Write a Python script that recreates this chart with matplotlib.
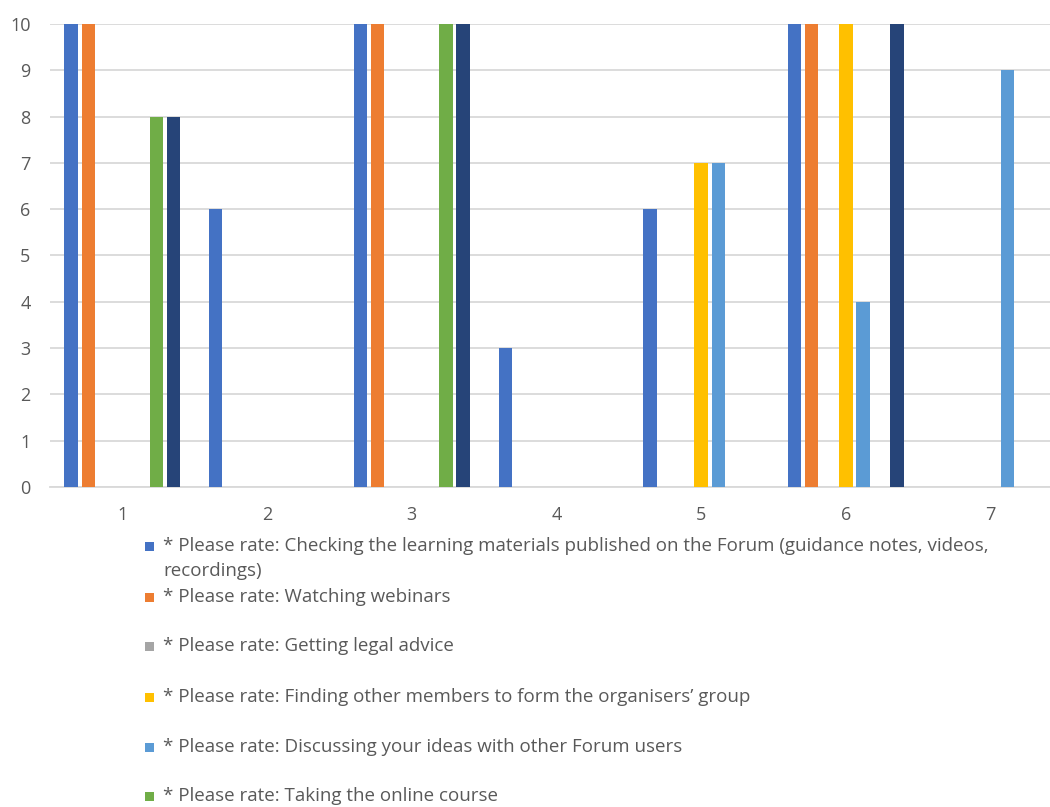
import matplotlib
matplotlib.use("Agg")
import matplotlib.pyplot as plt
from matplotlib.patches import Rectangle
import numpy as np

categories = ["1", "2", "3", "4", "5", "6", "7"]
series_names = [
    "* Please rate: Checking the learning materials published on the Forum (guidance notes, videos,\nrecordings)",
    "* Please rate: Watching webinars",
    "* Please rate: Getting legal advice",
    "* Please rate: Finding other members to form the organisers\u2019 group",
    "* Please rate: Discussing your ideas with other Forum users",
    "* Please rate: Taking the online course",
    "* Please rate: Other",
]
checking = [10, 6, 10, 3, 6, 10, 0]
webinars = [10, 0, 10, 0, 0, 10, 0]
legal = [0, 0, 0, 0, 0, 0, 0]
finding = [0, 0, 0, 0, 7, 10, 0]
discussing = [0, 0, 0, 0, 7, 4, 9]
course = [8, 0, 10, 0, 0, 0, 0]
other = [8, 0, 10, 0, 0, 10, 0]
yticks = list(range(0, 11))

series = [checking, webinars, legal, finding, discussing, course, other]
colors = ["#4472C4", "#ED7D31", "#A5A5A5", "#FFC000", "#5B9BD5", "#70AD47", "#264478"]

plt.rcParams['font.family'] = ['Open Sans', 'DejaVu Sans']

W, H = 1050, 807
fig = plt.figure(figsize=(W / 100, H / 100), dpi=100)
fig.patch.set_facecolor("white")

left_px, right_px = 50, 50 + 7 * 144.7
top_px, bottom_px = 24, 487
ax = fig.add_axes([left_px / W, 1 - bottom_px / H, (right_px - left_px) / W, (bottom_px - top_px) / H])

x = np.arange(1, len(categories) + 1)
pitch = 0.118
bw = 0.092
for k, (vals, c) in enumerate(zip(series, colors)):
    ax.bar(x + (k - 3) * pitch, vals, width=bw, color=c, zorder=3)

ax.set_xlim(0.5, len(categories) + 0.5)
ax.set_ylim(0, 10)
ax.set_yticks(yticks)
ax.set_xticks(x)
ax.set_xticklabels(categories)
ax.grid(axis="y", color="#D9D9D9", linewidth=1.3, zorder=0)
ax.set_axisbelow(True)
for s in ["top", "right", "left"]:
    ax.spines[s].set_visible(False)
ax.spines["bottom"].set_color("#D9D9D9")
ax.spines["bottom"].set_linewidth(1.3)
ax.tick_params(axis="both", length=0, colors="#595959", labelsize=13)
ax.tick_params(axis="y", pad=14)
ax.tick_params(axis="x", pad=14)

# legend (first six entries visible; the rest is cropped)
entry_y = [546, 597, 646, 697, 747, 796]
for i, yy in enumerate(entry_y):
    fig.patches.append(Rectangle((145 / W, 1 - (yy + 4.5) / H), 9 / W, 9 / H,
                                 transform=fig.transFigure, facecolor=colors[i], edgecolor="none"))
    lines = series_names[i].split("\n")
    for j, ln in enumerate(lines):
        fig.text(163 / W, 1 - (yy + j * 25) / H, ln, ha="left", va="center",
                 fontsize=13.5, color="#595959")

fig.savefig("out.png", dpi=100)
